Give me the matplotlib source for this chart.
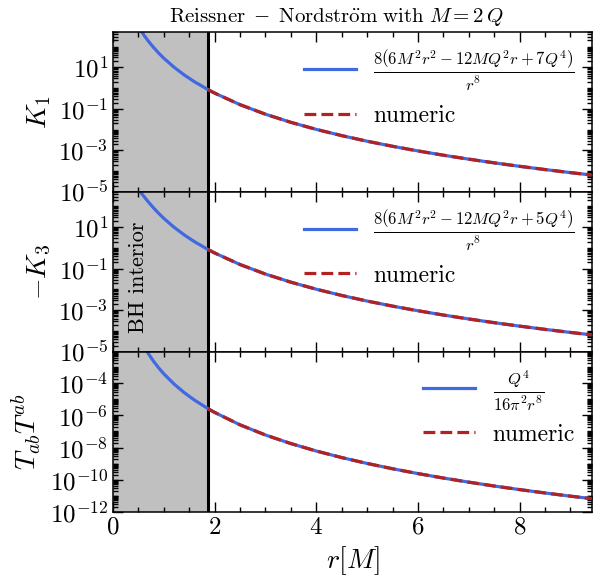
import numpy as np
import matplotlib
matplotlib.use('Agg')
import matplotlib.pyplot as plt
from matplotlib.ticker import MultipleLocator, LogLocator, NullFormatter

plt.rcParams['font.family'] = 'serif'
plt.rcParams['font.serif'] = ['cmr10']
plt.rcParams['mathtext.fontset'] = 'cm'
plt.rcParams['axes.formatter.use_mathtext'] = True

# horizon radius r_+ (in units of M)
r_horizon = 1.866

# radius values (units of M)
r_exact = [0.5, 0.6, 0.7, 0.8, 0.9, 1.0, 1.2, 1.4, 1.6, 1.866, 2.0, 2.5, 3.0,
           3.5, 4.0, 4.5, 5.0, 5.5, 6.0, 6.5, 7.0, 7.5, 8.0, 8.5, 9.0, 9.42]

k1_exact = [896.0, 379.9, 177.3, 89.53, 48.27, 27.5, 10.19, 4.335, 2.048,
            0.8562, 0.5762, 0.1596, 0.0554, 0.02254, 0.010307, 0.005159,
            0.002774, 0.001581, 9.452e-4, 5.886e-4, 3.795e-4, 2.521e-4,
            1.719e-4, 1.199e-4, 8.538e-5, 6.511e-5]

k3_exact = [640.0, 320.3, 159.9, 83.57, 45.95, 26.5, 9.959, 4.268, 2.025,
            0.8494, 0.5723, 0.1589, 0.05525, 0.02249, 0.010292, 0.005153,
            0.002771, 0.001579, 9.446e-4, 5.883e-4, 3.793e-4, 2.520e-4,
            1.718e-4, 1.199e-4, 8.536e-5, 6.509e-5]

t_exact = [0.1013, 0.02357, 0.006866, 0.002359, 9.195e-4, 3.958e-4, 9.205e-5,
           2.682e-5, 9.215e-6, 2.693e-6, 1.546e-6, 2.594e-7, 6.033e-8,
           1.758e-8, 6.039e-9, 2.354e-9, 1.013e-9, 4.727e-10, 2.356e-10,
           1.242e-10, 6.866e-11, 3.954e-11, 2.359e-11, 1.453e-11, 9.195e-12,
           6.384e-12]

# numeric solution only outside the horizon
i_h = r_exact.index(r_horizon)
r_num = r_exact[i_h:]
k1_num = k1_exact[i_h:]
k3_num = k3_exact[i_h:]
t_num = t_exact[i_h:]

labels_exact = [
    r'$\frac{8\left(6M^2r^2-12MQ^2r+7Q^4\right)}{r^8}$',
    r'$\frac{8\left(6M^2r^2-12MQ^2r+5Q^4\right)}{r^8}$',
    r'$\frac{Q^4}{16\pi^2r^8}$',
]
ylabels = [r'$K_1$', r'$-K_3$', r'$T_{ab}T^{ab}$']

fig, axes = plt.subplots(3, 1, sharex=True, figsize=(5.95, 5.84), dpi=100)
fig.subplots_adjust(left=0.19, right=0.9945, top=0.945, bottom=0.124, hspace=0)

panels = [
    (k1_exact, k1_num, (1e-5, 5e2), [1e-5, 1e-3, 1e-1, 1e1]),
    (k3_exact, k3_num, (1e-5, 5e2), [1e-5, 1e-3, 1e-1, 1e1]),
    (t_exact, t_num, (1e-12, 9.5e-3), [1e-12, 1e-10, 1e-8, 1e-6, 1e-4]),
]

for i, (ax, (ex, nu, ylim, yt)) in enumerate(zip(axes, panels)):
    ax.axvspan(0, r_horizon, color='silver', lw=0, zorder=0)
    ax.axvline(r_horizon, color='k', lw=2.2, zorder=1)
    ax.plot(r_exact, ex, color='royalblue', lw=2.3, label=labels_exact[i], zorder=2)
    ax.plot(r_num, nu, color='firebrick', lw=2.3, ls='--', label='numeric', zorder=3)
    ax.set_yscale('log')
    ax.set_ylim(*ylim)
    ax.set_yticks(yt)
    ax.yaxis.set_minor_locator(LogLocator(base=10, subs=np.arange(1, 10), numticks=100))
    ax.yaxis.set_minor_formatter(NullFormatter())
    ax.set_ylabel(ylabels[i], fontsize=20)
    ax.xaxis.set_major_locator(MultipleLocator(2))
    ax.xaxis.set_minor_locator(MultipleLocator(0.5))
    ax.tick_params(which='both', direction='in', top=True, right=True, labelsize=18, width=1)
    ax.tick_params(which='major', length=7)
    ax.tick_params(which='minor', length=3.5)
    for s in ax.spines.values():
        s.set_linewidth(1.1)
    ax.legend(loc='upper right', frameon=False, fontsize=17, handlelength=2.2,
              handletextpad=0.75, borderaxespad=0.3)

axes[0].set_xlim(0, 9.42)
axes[0].set_title(r'$\mathrm{Reissner}\;-\;\mathrm{Nordstr\ddot{o}m\ with}\ M = 2\,Q$',
                  fontsize=15, x=0.466, pad=7)
axes[1].text(0.49, 0.467, 'BH interior', rotation=90, fontsize=16,
             ha='center', va='center', transform=axes[1].get_xaxis_transform())
axes[2].set_xlabel(r'$r[M]$', fontsize=20)

fig.savefig('out.png', dpi=100)
